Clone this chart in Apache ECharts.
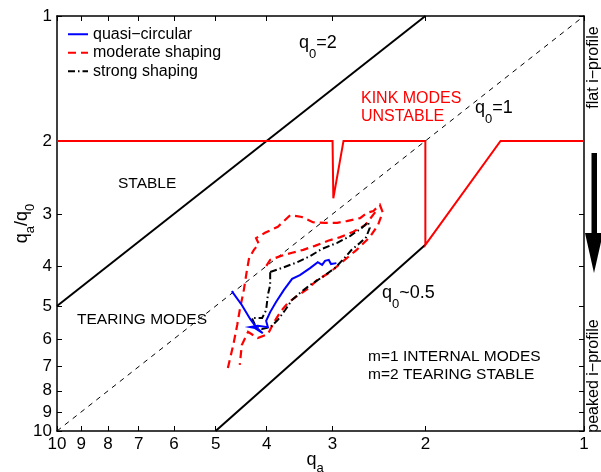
<!DOCTYPE html>
<html>
<head>
<meta charset="utf-8">
<script src="https://cdn.jsdelivr.net/npm/echarts@6/dist/echarts.min.js"></script>
<style>html,body{margin:0;padding:0;background:#fff}#c{width:601px;height:472px}</style>
</head>
<body>
<div id="c"></div>
<script>
const FONT = '"Liberation Sans", Arial, Helvetica, sans-serif';

// tick labels (both axes, log scale 1..10)
const tickLabels = [1, 2, 3, 4, 5, 6, 7, 8, 9, 10];

// stability boundaries  (x = q_a, y = q_a/q_0)
const q0eq2_qa = [10, 2];
const q0eq2_ratio = [5, 1];
const q0eq1_qa = [10, 1];
const q0eq1_ratio = [10, 1];
const q0half_qa = [5, 2];
const q0half_ratio = [10, 3.56];
const kink_qa = [10, 3.0, 2.99, 2.86, 2.0, 2.0, 1.44, 1];
const kink_ratio = [2, 2, 2.75, 2, 2, 3.56, 2, 2];

// quasi-circular (blue)
const quasi_qa = [4.66, 4.46, 4.30, 4.19, 4.07, 4.21, 4.30, 4.16, 3.98, 4.01, 3.94, 3.84, 3.71, 3.58, 3.46, 3.31, 3.20, 3.14, 3.10, 3.05, 3.02, 2.95];
const quasi_ratio = [4.60, 4.97, 5.37, 5.62, 5.81, 5.65, 5.62, 5.58, 5.62, 5.43, 5.17, 4.89, 4.57, 4.30, 4.21, 4.05, 3.92, 3.98, 3.89, 3.87, 3.96, 3.94];

// strong shaping (black dash-dot)
const strong_qa = [3.94, 3.71, 3.50, 3.31, 3.14, 2.94, 2.78, 2.64, 2.57, 2.55, 2.59, 2.66, 2.76, 2.87, 2.97, 3.14, 3.31, 3.46, 3.58, 3.69, 3.81, 3.94, 4.08, 4.21, 4.27, 4.08, 4.01, 3.98, 3.94, 3.94];
const strong_ratio = [4.14, 4.03, 3.92, 3.79, 3.64, 3.52, 3.39, 3.24, 3.14, 3.24, 3.41, 3.52, 3.66, 3.87, 4.05, 4.26, 4.45, 4.65, 4.83, 5.11, 5.40, 5.62, 5.68, 5.55, 5.34, 5.34, 5.11, 4.70, 4.45, 4.14];

// moderate shaping (red dashed), two discharge traces
const moderate1_qa = [4.74, 4.63, 4.55, 4.50, 4.42, 4.36, 4.32, 4.23, 4.14, 4.19, 4.03, 3.81, 3.61, 3.43, 3.27, 3.10, 2.94, 2.82, 2.66, 2.58, 2.51, 2.44, 2.41, 2.46, 2.55, 2.70, 2.88, 3.03, 3.21, 3.35, 3.52, 3.65, 3.77, 3.87, 3.98, 4.16, 4.34, 4.46, 4.50];
const moderate1_ratio = [7.05, 6.21, 5.55, 5.11, 4.57, 4.09, 3.83, 3.66, 3.54, 3.43, 3.33, 3.22, 3.02, 3.05, 3.14, 3.15, 3.15, 3.12, 3.07, 2.98, 2.95, 2.85, 2.97, 3.19, 3.41, 3.66, 3.92, 4.14, 4.33, 4.55, 4.75, 4.92, 5.17, 5.46, 5.84, 5.97, 5.77, 6.21, 6.93];
const moderate2_qa = [2.49, 2.60, 2.74, 2.90, 3.06, 3.24, 3.41, 3.58, 3.77, 3.94, 4.03];
const moderate2_ratio = [2.97, 3.19, 3.31, 3.41, 3.48, 3.58, 3.66, 3.72, 3.79, 3.87, 4.05];

const legendNames = ['quasi\u2212circular', 'moderate shaping', 'strong shaping'];

function pts(xs, ys) { return xs.map((x, i) => [Math.log10(x), Math.log10(ys[i])]); }
const tickPos = tickLabels.map(v => Math.log10(v));
const fmt = v => String(Math.round(Math.pow(10, v)));

function lineSer(name, xs, ys, color, width, type, z) {
  return {
    type: 'line', name: name, data: pts(xs, ys), symbol: 'none', showSymbol: false,
    lineStyle: { color: color, width: width, type: type, cap: 'butt', join: 'miter' },
    itemStyle: { color: color }, z: z, silent: true, clip: true, animation: false
  };
}

function axisBase(pos, showLabel) {
  return {
    type: 'value', min: 0, max: 1, inverse: true, position: pos,
    axisLine: { show: true, onZero: false, lineStyle: { color: '#000', width: 1.5 } },
    axisTick: { show: true, inside: true, length: 5, customValues: tickPos, lineStyle: { color: '#000', width: 1 } },
    axisLabel: { show: showLabel, customValues: tickPos, formatter: fmt, color: '#000', fontSize: 17, fontFamily: FONT },
    splitLine: { show: false }
  };
}

const nameRich = {
  m: { fontSize: 18, fontFamily: FONT, color: '#000', lineHeight: 20, verticalAlign: 'top' },
  s: { fontSize: 13, fontFamily: FONT, color: '#000', lineHeight: 13, verticalAlign: 'top', padding: [11, 0, 0, 0] }
};
const xMain = axisBase('bottom', true);
xMain.axisLabel.margin = 5;
xMain.name = '{m|q}{s|a}';
xMain.nameLocation = 'middle';
xMain.nameGap = 20;
xMain.nameMoveOverlap = false;
xMain.nameTextStyle = { rich: nameRich, padding: [0, 11, 0, 0] };
const xTop = axisBase('top', false);
const yMain = axisBase('left', true);
yMain.axisLabel.margin = 5;
yMain.name = '{m|q}{s|a}{m|/q}{s|0}';
yMain.nameLocation = 'middle';
yMain.nameRotate = 90;
yMain.nameGap = 24;
yMain.nameMoveOverlap = false;
yMain.nameTextStyle = { rich: nameRich };
const yRight = axisBase('right', false);

const richQ = {
  m: { fontSize: 18, fontFamily: FONT, fill: '#000', lineHeight: 22, verticalAlign: 'top' },
  s: { fontSize: 13, fontFamily: FONT, fill: '#000', lineHeight: 13, verticalAlign: 'top', padding: [14, 0, 0, 0] }
};
function plainText(txt, x, y, color, size, align) {
  return { type: 'text', x: x, y: y, silent: true, z: 50,
    style: { text: txt, fill: color, font: size + 'px ' + FONT, align: align || 'left', verticalAlign: 'middle' } };
}
function qText(txt, x, y) {
  return { type: 'text', x: x, y: y - 11, silent: true, z: 50,
    style: { text: txt, rich: richQ, align: 'left', verticalAlign: 'top', fill: '#000' } };
}

const option = {
  animation: false,
  backgroundColor: '#fff',
  grid: { left: 57, right: 17, top: 16, bottom: 41, containLabel: false, outerBoundsMode: 'none' },
  xAxis: [xMain, xTop],
  yAxis: [yMain, yRight],
  legend: {
    data: legendNames, orient: 'vertical', left: 62, top: 20,
    itemWidth: 20, itemHeight: 14, itemGap: 0, selectedMode: false,
    itemStyle: { opacity: 0 },
    textStyle: { fontSize: 16, fontFamily: FONT, color: '#000', lineHeight: 18.5 }
  },
  series: [
    lineSer('', q0eq1_qa, q0eq1_ratio, '#000', 1, [5, 5], 2),
    lineSer('', q0eq2_qa, q0eq2_ratio, '#000', 2, 'solid', 3),
    lineSer('', q0half_qa, q0half_ratio, '#000', 2, 'solid', 3),
    lineSer('', kink_qa, kink_ratio, '#ff0000', 2, 'solid', 4),
    lineSer(legendNames[1], moderate1_qa, moderate1_ratio, '#ff0000', 2.2, [8, 5], 5),
    lineSer(legendNames[1], moderate2_qa, moderate2_ratio, '#ff0000', 2.2, [8, 5], 5),
    lineSer(legendNames[2], strong_qa, strong_ratio, '#000', 2, [7, 3, 1.5, 3], 6),
    lineSer(legendNames[0], quasi_qa, quasi_ratio, '#0000ff', 2, 'solid', 7)
  ],
  graphic: [
    qText('{m|q}{s|0}{m|=2}', 299, 45),
    qText('{m|q}{s|0}{m|=1}', 475, 110),
    qText('{m|q}{s|0}{m|~0.5}', 382, 295),
    plainText('KINK MODES', 361, 99, '#ff0000', 16),
    plainText('UNSTABLE', 361, 116.5, '#ff0000', 16),
    plainText('STABLE', 118, 183.5, '#000', 15.5),
    plainText('TEARING MODES', 77, 320, '#000', 15.5),
    plainText('m=1 INTERNAL MODES', 368, 357, '#000', 15.5),
    plainText('m=2 TEARING STABLE', 368, 375, '#000', 15.5),
    { type: 'text', x: 594, y: 67.5, rotation: Math.PI / 2, silent: true,
      style: { text: 'flat i\u2212profile', fill: '#000', font: '16px ' + FONT, align: 'center', verticalAlign: 'middle' } },
    { type: 'text', x: 594, y: 376, rotation: Math.PI / 2, silent: true,
      style: { text: 'peaked i\u2212profile', fill: '#000', font: '16px ' + FONT, align: 'center', verticalAlign: 'middle' } },
    { type: 'rect', silent: true, shape: { x: 591.5, y: 153, width: 5.5, height: 82 }, style: { fill: '#000' } },
    { type: 'polygon', silent: true, shape: { points: [[585, 233], [603, 233], [594, 273]] }, style: { fill: '#000' } }
  ]
};

const chart = echarts.init(document.getElementById('c'), null, { renderer: 'canvas' });
chart.setOption(option);
</script>
</body>
</html>
